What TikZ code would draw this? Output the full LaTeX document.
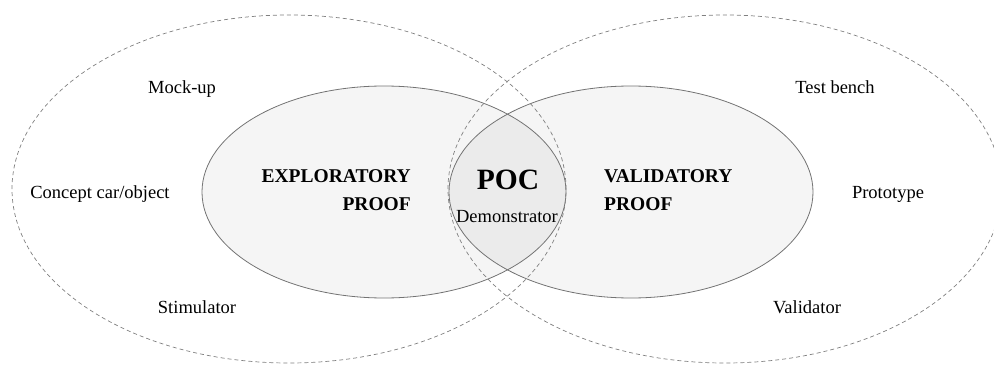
\documentclass[tikz,border=0pt]{standalone}
\usepackage{fontspec}
\setmainfont{Liberation Serif}
\tikzset{
  proof/.style={draw=black!55,line width=.8pt},
  scope line/.style={draw=black!50,line width=.7pt,dash pattern=on 4pt off 3pt},
  item/.style={inner sep=0pt,anchor=base,font=\fontsize{18.5}{22}\selectfont},
  title/.style={inner sep=0pt,font=\fontsize{19.5}{28}\selectfont\bfseries}
}
\begin{document}
\begin{tikzpicture}[x=1pt,y=1pt]
  \useasboundingbox (0,0) rectangle (994,365);
  % the two proofs
  \fill[black,fill opacity=.04] (384,173) ellipse [x radius=182,y radius=106];
  \fill[black,fill opacity=.04] (631,173) ellipse [x radius=182,y radius=106];
  \draw[proof] (384,173) ellipse [x radius=182,y radius=106];
  \draw[proof] (631,173) ellipse [x radius=182,y radius=106];
  % the outer fields
  \draw[scope line] (289,176) ellipse [x radius=277,y radius=174];
  \draw[scope line] (725,176) ellipse [x radius=277,y radius=174];
  \foreach \name/\pos/\txt in {mockup/{182,272}/Mock-up,concept/{100,167}/{Concept car/object},
    stimulator/{197,52}/Stimulator,testbench/{835,272}/Test bench,
    prototype/{888,167}/Prototype,validator/{807,52}/Validator} {
  \node[item] (\name) at (\pos) {\txt};
  }
  \node[title,anchor=east,align=right] (exploratory) at (411,174.5) {EXPLORATORY\\PROOF};
  \node[title,anchor=west,align=left] (validatory) at (604,174.5) {VALIDATORY\\PROOF};
  \node[item,font=\fontsize{29.5}{32}\selectfont\bfseries] (poc) at (508,176) {POC};
  \node[item] (demonstrator) at (507,143) {Demonstrator};
\end{tikzpicture}
\end{document}
